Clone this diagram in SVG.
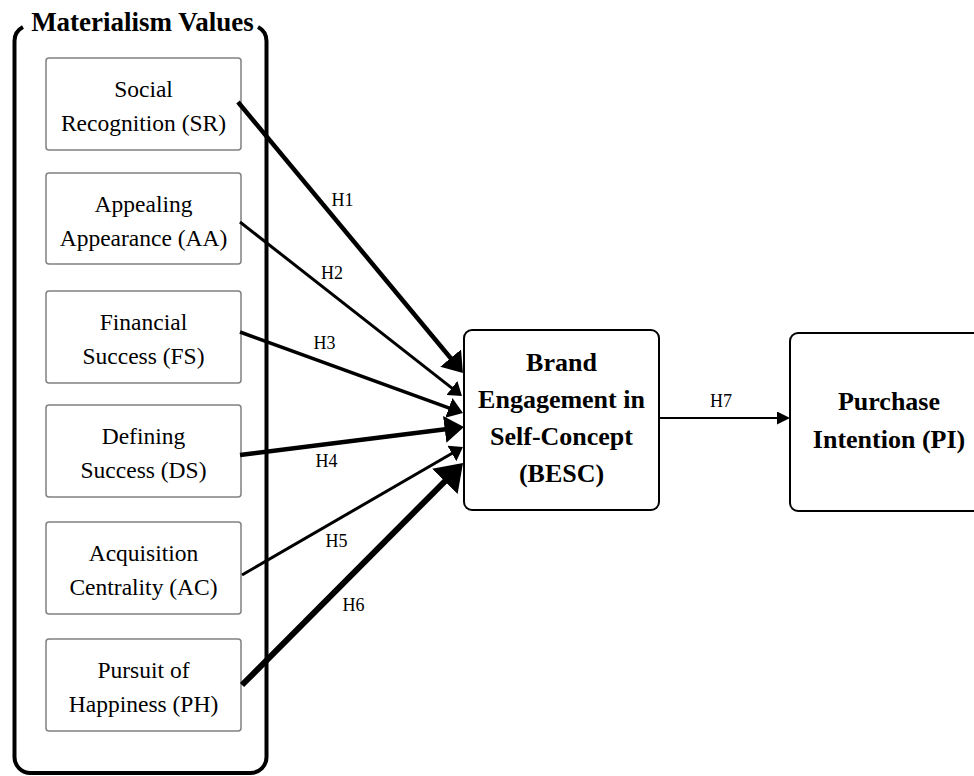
<svg xmlns="http://www.w3.org/2000/svg" width="974" height="776" viewBox="0 0 974 776">
<style>
  .bg { fill: #ffffff; }
  .outer { fill: none; stroke: #000; stroke-width: 4; }
  .mv { fill: #fff; stroke: #808080; stroke-width: 1.5; }
  .main { fill: #fff; stroke: #000; stroke-width: 2; }
  .t { font-family: "Liberation Serif", "Times New Roman", serif; font-size: 23.5px; fill: #000; text-anchor: middle; }
  .tb { font-family: "Liberation Serif", "Times New Roman", serif; font-size: 26px; font-weight: bold; fill: #000; text-anchor: middle; }
  .title { font-size: 27px; }
  .lab { font-family: "Liberation Serif", "Times New Roman", serif; font-size: 18px; fill: #000; text-anchor: middle; }
  .c { fill: none; stroke: #000; }
</style>
<defs>
  <marker id="arr" viewBox="0 0 4.3 6" refX="3.3" refY="3" markerWidth="4.3" markerHeight="6" markerUnits="strokeWidth" orient="auto">
    <path d="M0,0 L4.3,3 L0,6 z" fill="#000"/>
  </marker>
  <marker id="arr7" viewBox="0 0 13 13" refX="11" refY="6.5" markerWidth="13" markerHeight="13" markerUnits="userSpaceOnUse" orient="auto">
    <path d="M0,0 L13,6.5 L0,13 z" fill="#000"/>
  </marker>
</defs>
<rect class="bg" x="0" y="0" width="974" height="776"/>

<g id="materialism-values">
  <path class="outer" d="M23,26.9 A16,16 0 0 0 14.5,41 V757 A16,16 0 0 0 30.5,773 H250.5 A16,16 0 0 0 266.5,757 V41 A16,16 0 0 0 258,26.9"/>
  <text class="tb title" x="142.5" y="30.5">Materialism Values</text>
</g>

<g id="SR">
  <rect class="mv" x="46" y="58" width="195" height="92" rx="3"/>
  <text class="t" x="143.5" y="97">Social</text>
  <text class="t" x="143.5" y="131">Recognition (SR)</text>
</g>
<g id="AA">
  <rect class="mv" x="46" y="173" width="195" height="91" rx="3"/>
  <text class="t" x="143.5" y="211.5">Appealing</text>
  <text class="t" x="143.5" y="245.5">Appearance (AA)</text>
</g>
<g id="FS">
  <rect class="mv" x="46" y="291" width="195" height="92" rx="3"/>
  <text class="t" x="143.5" y="330">Financial</text>
  <text class="t" x="143.5" y="364">Success (FS)</text>
</g>
<g id="DS">
  <rect class="mv" x="46" y="405" width="195" height="92" rx="3"/>
  <text class="t" x="143.5" y="444">Defining</text>
  <text class="t" x="143.5" y="478">Success (DS)</text>
</g>
<g id="AC">
  <rect class="mv" x="46" y="522" width="195" height="92" rx="3"/>
  <text class="t" x="143.5" y="561">Acquisition</text>
  <text class="t" x="143.5" y="595">Centrality (AC)</text>
</g>
<g id="PH">
  <rect class="mv" x="46" y="639" width="195" height="92" rx="3"/>
  <text class="t" x="143.5" y="678">Pursuit of</text>
  <text class="t" x="143.5" y="712">Happiness (PH)</text>
</g>

<g id="BESC">
  <rect class="main" x="464" y="330" width="195" height="180" rx="8"/>
  <text class="tb" x="561.5" y="371">Brand</text>
  <text class="tb" x="561.5" y="408">Engagement in</text>
  <text class="tb" x="561.5" y="445">Self-Concept</text>
  <text class="tb" x="561.5" y="482">(BESC)</text>
</g>

<g id="PI">
  <rect class="main" x="790" y="333" width="200" height="178" rx="8"/>
  <text class="tb" x="889" y="410">Purchase</text>
  <text class="tb" x="889" y="448">Intention (PI)</text>
</g>

<g id="connectors">
  <line class="c" x1="238" y1="102" x2="460.1" y2="369.5" stroke-width="4.5" marker-end="url(#arr)"/>
  <line class="c" x1="240" y1="222" x2="459.6" y2="394.1" stroke-width="3" marker-end="url(#arr)"/>
  <line class="c" x1="240" y1="332" x2="459.7" y2="411.8" stroke-width="3.5" marker-end="url(#arr)"/>
  <line class="c" x1="240" y1="455" x2="459.5" y2="427.6" stroke-width="4.5" marker-end="url(#arr)"/>
  <line class="c" x1="242" y1="575" x2="460.4" y2="448.5" stroke-width="3" marker-end="url(#arr)"/>
  <line class="c" x1="242" y1="685" x2="458.8" y2="467.3" stroke-width="6" marker-end="url(#arr)"/>
  <line class="c" x1="659" y1="418" x2="788" y2="418" stroke-width="2" marker-end="url(#arr7)"/>
  <text class="lab" x="342.5" y="206">H1</text>
  <text class="lab" x="332" y="279">H2</text>
  <text class="lab" x="324.5" y="349">H3</text>
  <text class="lab" x="326.5" y="467">H4</text>
  <text class="lab" x="336.5" y="547">H5</text>
  <text class="lab" x="353.5" y="611">H6</text>
  <text class="lab" x="721" y="407">H7</text>
</g>
</svg>
